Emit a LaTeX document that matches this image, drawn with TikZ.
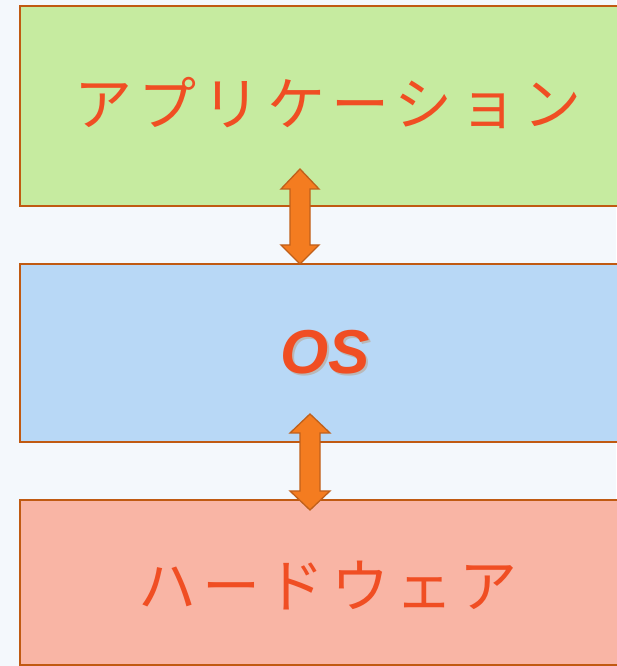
\documentclass[tikz,border=0pt]{standalone}
\usepackage{fontspec}
\setmainfont{Liberation Sans}
\newfontfamily\jp[LetterSpace=11]{Noto Sans CJK JP}
\definecolor{bg}{HTML}{F4F8FC}
\definecolor{edge}{HTML}{C05A12}
\definecolor{gfill}{HTML}{C6EBA0}
\definecolor{bfill}{HTML}{B8D8F6}
\definecolor{rfill}{HTML}{F9B5A5}
\definecolor{txt}{HTML}{F04E23}
\definecolor{afill}{HTML}{F47C20}
\definecolor{aedge}{HTML}{C0601A}
\begin{document}
\begin{tikzpicture}[x=1pt,y=1pt,
  layerbox/.style={draw=edge, line width=2.4pt, anchor=north west, minimum width=610pt, inner sep=0pt, outer sep=0pt},
  jptext/.style={text=txt, font=\jp\fontsize{58}{60}\selectfont},
  dblarrow/.style={fill=afill, draw=aedge, line width=1.3pt, line join=miter}]
\useasboundingbox[fill=bg] (0,0) rectangle (616,666);
\node[layerbox, fill=gfill, minimum height=200pt] (app) at (20,660) {};
\node[layerbox, fill=bfill, minimum height=178pt] (os) at (20,402) {};
\node[layerbox, fill=rfill, minimum height=165pt] (hw) at (20,166) {};
\node[jptext] (apptext) at ([xshift=3pt,yshift=3pt]app.center) {アプリケーション};
\node[jptext] (hwtext) at ([xshift=3pt,yshift=-3pt]hw.center) {ハードウェア};
\node[text=txt, font=\bfseries\itshape\fontsize{62}{64}\selectfont] (ostext) at (os.center)
  {\makebox[0pt][l]{\hspace{2.5pt}\raisebox{-2.5pt}{\color{gray!55}OS}}OS};
% arrow between application and OS
\coordinate (a1top) at (300,497);
\coordinate (a1bot) at (300,402);
\draw[dblarrow] (a1top) -- ++(19,-20) -- ++(-9,0) -- (310,421) -- (319,421) -- (a1bot) -- (281,421) -- (290,421) -- (290,477) -- (281,477) -- cycle;
% arrow between OS and hardware
\coordinate (a2top) at (310,252);
\coordinate (a2bot) at (310,156);
\draw[dblarrow] (a2top) -- ++(20,-19) -- ++(-10,0) -- (320,175) -- (330,175) -- (a2bot) -- (290,175) -- (300,175) -- (300,233) -- (290,233) -- cycle;
\end{tikzpicture}
\end{document}
